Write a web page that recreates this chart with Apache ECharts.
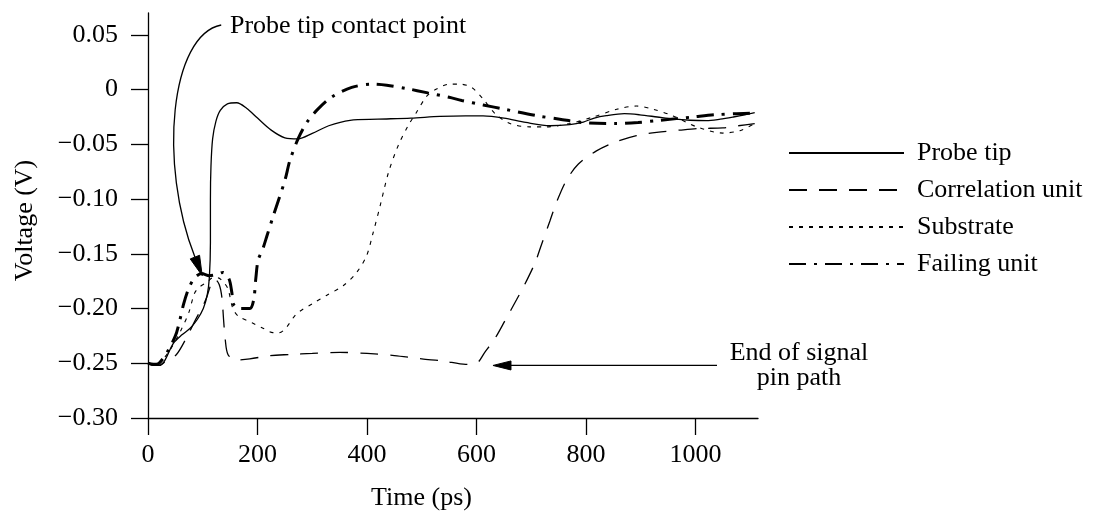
<!DOCTYPE html>
<html>
<head>
<meta charset="utf-8">
<script src="https://cdn.jsdelivr.net/npm/echarts@6/dist/echarts.min.js"></script>
<style>
  html, body { margin: 0; padding: 0; background: #fff; }
  #chart { width: 1093px; height: 512px; }
</style>
</head>
<body>
<div id="chart"></div>
<script>
// time in ps, voltage in V
const probeTip = [
  [0, -0.250], [10, -0.252], [20, -0.252], [30, -0.248], [46, -0.232], [62, -0.224],
  [77, -0.218], [90, -0.210], [101, -0.200], [108, -0.188], [112, -0.172], [114, -0.140],
  [114, -0.100], [115, -0.070], [118, -0.045], [124, -0.029], [132, -0.019], [145, -0.013],
  [162, -0.012], [180, -0.017], [200, -0.026], [225, -0.037], [250, -0.044], [274, -0.045],
  [300, -0.040], [330, -0.033], [369, -0.028], [420, -0.027], [480, -0.026], [533, -0.0245],
  [580, -0.024], [612, -0.024], [650, -0.026], [690, -0.030], [734, -0.033], [770, -0.032],
  [795, -0.0296], [815, -0.026], [837, -0.0238], [870, -0.022], [898, -0.023], [930, -0.025],
  [959, -0.0268], [990, -0.028], [1020, -0.0284], [1045, -0.027], [1069, -0.025], [1090, -0.023],
  [1108, -0.021]
];
const correlationUnit = [
  [0, -0.250], [10, -0.252], [20, -0.252], [35, -0.247], [52, -0.242], [71, -0.226],
  [86, -0.211], [100, -0.198], [107, -0.190], [115, -0.178], [122, -0.173], [130, -0.178],
  [135, -0.190], [138, -0.210], [141, -0.228], [146, -0.242], [160, -0.247], [186, -0.246],
  [223, -0.243], [259, -0.242], [300, -0.241], [350, -0.240], [400, -0.241], [450, -0.243],
  [500, -0.246], [540, -0.248], [580, -0.251], [600, -0.250], [615, -0.240], [634, -0.227],
  [652, -0.211], [673, -0.192], [688, -0.178], [707, -0.158], [719, -0.141], [734, -0.120],
  [746, -0.103], [764, -0.083], [786, -0.068], [819, -0.056], [853, -0.048], [892, -0.042],
  [929, -0.039], [971, -0.037], [1008, -0.0355], [1050, -0.035], [1078, -0.033], [1108, -0.031]
];
const substrate = [
  [0, -0.250], [10, -0.251], [20, -0.250], [40, -0.238], [60, -0.220], [75, -0.203],
  [85, -0.186], [95, -0.180], [108, -0.176], [118, -0.172], [128, -0.172], [138, -0.176],
  [146, -0.182], [155, -0.200], [165, -0.207], [190, -0.213], [210, -0.218], [228, -0.222],
  [240, -0.222], [253, -0.217], [271, -0.205], [302, -0.195], [326, -0.188], [357, -0.179],
  [381, -0.167], [399, -0.152], [411, -0.131], [424, -0.106], [439, -0.076], [457, -0.051],
  [475, -0.033], [490, -0.021], [509, -0.006], [527, 0.0005], [551, 0.005], [570, 0.005],
  [591, 0.002], [612, -0.0085], [634, -0.022], [661, -0.031], [697, -0.034], [728, -0.034],
  [770, -0.031], [813, -0.025], [856, -0.018], [892, -0.015], [923, -0.018], [959, -0.024],
  [1002, -0.034], [1050, -0.0397], [1081, -0.0375], [1108, -0.031]
];
const failingUnit = [
  [0, -0.250], [10, -0.251], [20, -0.250], [35, -0.240], [50, -0.225], [57, -0.213],
  [65, -0.196], [74, -0.182], [85, -0.172], [98, -0.168], [112, -0.170], [125, -0.169],
  [137, -0.167], [148, -0.173], [153, -0.185], [156, -0.196], [165, -0.200], [186, -0.200],
  [193, -0.192], [197, -0.172], [201, -0.156], [210, -0.145], [217, -0.134], [229, -0.115],
  [250, -0.083], [259, -0.065], [274, -0.045], [290, -0.030], [308, -0.019], [335, -0.007],
  [372, 0.002], [410, 0.005], [436, 0.004], [472, 0.001], [511, -0.003], [550, -0.007],
  [573, -0.010], [612, -0.014], [652, -0.018], [712, -0.024], [752, -0.027], [792, -0.030],
  [853, -0.031], [895, -0.030], [935, -0.028], [995, -0.025], [1035, -0.023], [1075, -0.022],
  [1105, -0.0215]
];

const xTicks = [0, 200, 400, 600, 800, 1000];
const yTicks = [-0.30, -0.25, -0.20, -0.15, -0.10, -0.05, 0, 0.05];

// where the two annotation arrows point (data coords)
const contactTip = [99, -0.170];
const pinEndTip = [630, -0.252];

const FONT = '"Liberation Serif", "Times New Roman", serif';

const chart = echarts.init(document.getElementById('chart'));

function fmtY(v) {
  if (Math.abs(v) < 1e-9) return '0';
  return (v < 0 ? '\u2212' : '') + Math.abs(v).toFixed(2);
}

function lineSeries(name, data, lineStyle) {
  return {
    name: name,
    type: 'line',
    data: data,
    symbol: 'none',
    smooth: 0.3,
    lineStyle: Object.assign({ color: '#000' }, lineStyle),
    itemStyle: { color: '#000' }
  };
}

chart.setOption({
  animation: false,
  backgroundColor: '#fff',
  grid: { left: 148, right: 335, top: 13, bottom: 94, containLabel: false, outerBoundsMode: 'none' },
  legend: {
    orient: 'vertical',
    left: 783,
    top: 135,
    itemWidth: 115,
    itemHeight: 14,
    itemGap: 11,
    selectedMode: false,
    itemStyle: { opacity: 0, borderWidth: 0 },
    textStyle: { fontFamily: FONT, fontSize: 26, color: '#000', padding: [0, 0, 0, 8] },
    data: ['Probe tip', 'Correlation unit', 'Substrate', 'Failing unit']
  },
  xAxis: {
    type: 'value',
    min: 0,
    max: 1114,
    interval: 200,
    name: 'Time (ps)',
    nameLocation: 'middle',
    nameGap: 67,
    nameTextStyle: { fontFamily: FONT, fontSize: 26, color: '#000', padding: [0, 63, 0, 0] },
    axisLine: { show: true, onZero: false, lineStyle: { color: '#000', width: 1.3 } },
    axisTick: { show: true, length: 17, customValues: xTicks, lineStyle: { color: '#000', width: 1.3 } },
    axisLabel: { margin: 24, customValues: xTicks, formatter: v => String(v), fontFamily: FONT, fontSize: 26, color: '#000' },
    splitLine: { show: false }
  },
  yAxis: {
    type: 'value',
    min: -0.30,
    max: 0.07,
    interval: 0.05,
    name: 'Voltage (V)',
    nameLocation: 'middle',
    nameGap: 110,
    nameTextStyle: { fontFamily: FONT, fontSize: 26, color: '#000', padding: [0, 10, 0, 0] },
    axisLine: { show: true, onZero: false, lineStyle: { color: '#000', width: 1.3 } },
    axisTick: { show: true, length: 17, customValues: yTicks, lineStyle: { color: '#000', width: 1.3 } },
    axisLabel: { margin: 30, customValues: yTicks, formatter: fmtY, fontFamily: FONT, fontSize: 26, color: '#000' },
    splitLine: { show: false }
  },
  series: [
    lineSeries('Probe tip', probeTip, { type: 'solid', width: 1.3 }),
    lineSeries('Correlation unit', correlationUnit, { type: [18, 12], width: 1.3 }),
    lineSeries('Substrate', substrate, { type: [4, 6], width: 1.1 }),
    lineSeries('Failing unit', failingUnit, { type: [17, 8, 3, 8], width: 3 })
  ]
});

function textEl(txt, x, y, align, vAlign, lineHeight) {
  return {
    type: 'text',
    silent: true,
    style: {
      text: txt, x: x, y: y,
      font: '26px ' + FONT,
      fill: '#000',
      textAlign: align, align: align,
      textVerticalAlign: vAlign, verticalAlign: vAlign,
      lineHeight: lineHeight || 26
    }
  };
}

function arrowHead(tip, from, len, half) {
  const dx = tip[0] - from[0], dy = tip[1] - from[1];
  const d = Math.sqrt(dx * dx + dy * dy);
  const ux = dx / d, uy = dy / d;
  const bx = tip[0] - ux * len, by = tip[1] - uy * len;
  return {
    base: [bx, by],
    el: {
      type: 'polygon',
      silent: true,
      shape: { points: [tip, [bx - uy * half, by + ux * half], [bx + uy * half, by - ux * half]] },
      style: { fill: '#000', stroke: '#000', lineWidth: 1 }
    }
  };
}

function drawNotes() {
  const a = chart.convertToPixel({ gridIndex: 0 }, contactTip);
  const b = chart.convertToPixel({ gridIndex: 0 }, pinEndTip);

  const start = [a[0] + 19, 25];
  const cp1 = [a[0] - 32, 35];
  const cp2 = [a[0] - 44, a[1] - 112];
  const headA = arrowHead(a, cp2, 20, 5);

  const headB = arrowHead(b, [b[0] + 100, b[1]], 18, 4.5);

  chart.setOption({
    graphic: [
      textEl('Probe tip contact point', 230, 26, 'left', 'middle'),
      {
        type: 'bezierCurve',
        silent: true,
        shape: {
          x1: start[0], y1: start[1],
          cpx1: cp1[0], cpy1: cp1[1],
          cpx2: cp2[0], cpy2: cp2[1],
          x2: headA.base[0], y2: headA.base[1]
        },
        style: { stroke: '#000', lineWidth: 1.3, fill: null }
      },
      headA.el,
      {
        type: 'line',
        silent: true,
        shape: { x1: 717, y1: b[1], x2: headB.base[0], y2: headB.base[1] },
        style: { stroke: '#000', lineWidth: 1.3 }
      },
      headB.el,
      textEl('End of signal\npin path', 799, 341, 'center', 'top', 25)
    ]
  });
}

drawNotes();
</script>
</body>
</html>
